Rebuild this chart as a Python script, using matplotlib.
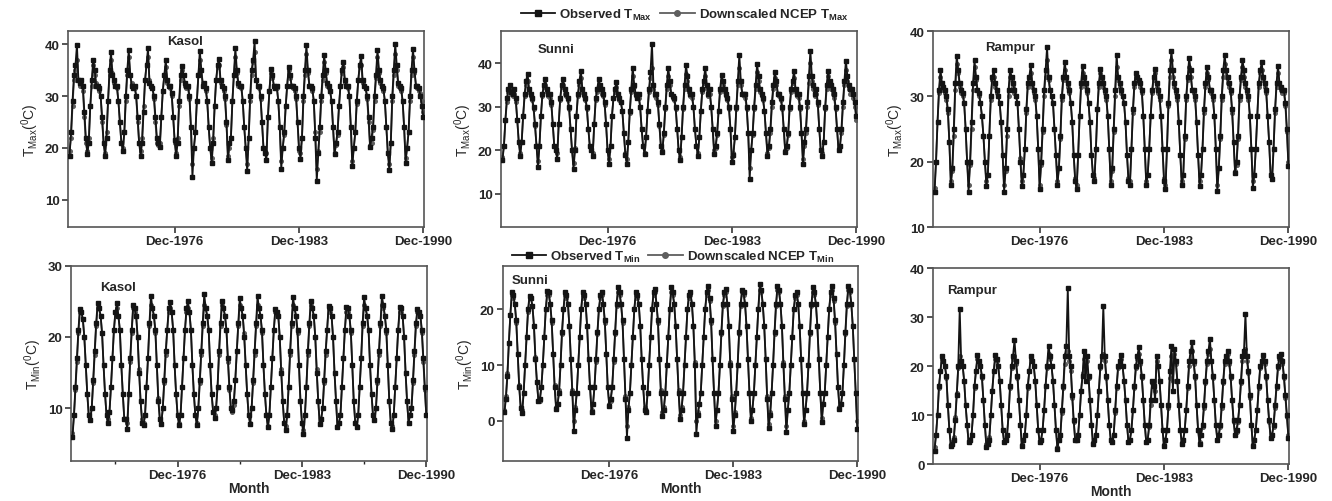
import matplotlib
matplotlib.use("Agg")
import matplotlib.pyplot as plt
from matplotlib.lines import Line2D

plt.rcParams['font.family'] = ['Liberation Sans', 'DejaVu Sans']
plt.rcParams['mathtext.fontset'] = 'custom'
plt.rcParams['mathtext.rm'] = 'Liberation Sans'
plt.rcParams['mathtext.bf'] = 'Liberation Sans:bold'
plt.rcParams['mathtext.it'] = 'Liberation Sans:italic'

# monthly series Jan-1971 .. Dec-1990 (one row per year)
kasol_tmax_obs = [
    18.5, 23, 29, 34, 36, 39.8, 33, 32.5, 33, 32, 27, 22,
    18.8, 21, 28, 33, 37, 35, 32, 32, 31.5, 30, 26, 21,
    18.5, 22, 29, 35, 38.4, 34, 33, 32, 32, 29, 25, 21,
    19.5, 23, 30, 35, 38.8, 34, 32, 31.5, 32, 30, 26, 21,
    18.5, 21, 27, 33, 36, 39.2, 32.5, 32, 31.5, 30, 26, 22,
    21, 20.1, 26, 31, 34, 36.9, 33, 32, 32, 30.5, 26, 21.5,
    18.5, 21, 29, 34, 35.8, 34, 32.5, 32, 32, 30, 24, 14.4,
    20, 23, 29, 34, 38.7, 35, 32, 32.5, 31.5, 29, 24, 20,
    17.2, 21, 28, 33, 36, 37.1, 33, 32, 31.5, 30, 25, 17.7,
    21, 22, 29, 34, 39.2, 35, 32.5, 32, 32, 29, 24, 20,
    15.5, 22, 30, 35, 37, 40.5, 33, 32, 32, 30, 25, 20,
    19, 17.7, 26, 31, 35.2, 34, 32, 31.5, 32, 29, 24, 16,
    20, 23, 28, 32, 35.5, 34, 32, 32, 31.5, 30, 25, 20,
    17.9, 22, 30, 35, 39.8, 35, 32, 32, 31.5, 29, 22, 13.7,
    19, 24, 30, 34, 37.9, 35, 32.5, 32, 31, 29, 24, 18.8,
    21, 23, 28, 32, 35, 36.6, 33, 32, 32, 30, 24, 16.6,
    20, 23, 29, 33, 36, 37.6, 33, 32, 31.5, 30, 26, 20.1,
    22, 24, 30, 34, 38.9, 35, 33, 32, 31.5, 29, 24, 19,
    15.7, 21, 30, 35, 40, 36, 32.5, 32, 31.5, 29, 24, 17.2,
    20, 23, 30, 35, 39, 35, 32, 32, 31.5, 30, 28, 26,
]
kasol_tmax_ds = [
    19.5, 22, 28, 33, 35, 37, 33, 32, 32.5, 31, 26, 21,
    19.5, 22, 28, 32, 36, 34, 32.5, 32, 31, 30, 25, 21,
    19, 23, 29, 34, 37, 34.5, 32.5, 32, 31.5, 29, 25, 21,
    20, 23, 29, 34, 37.5, 34, 32.5, 32, 31.5, 30, 25, 21,
    19.5, 22, 28, 33, 36, 37.5, 33, 32, 31.5, 29.5, 25, 21,
    20.5, 21, 26, 31, 34, 35.5, 32.5, 32, 31.5, 30, 26, 21,
    19, 22, 28, 33, 35, 34, 32, 31.5, 31.5, 29.5, 24, 17,
    20, 23, 29, 34, 37, 35, 32.5, 32, 31, 29, 24, 20,
    18, 22, 28, 33, 35.5, 36, 32.5, 32, 31, 29.5, 24.5, 18.5,
    20, 22, 29, 34, 37.5, 34.5, 32, 32, 31.5, 29, 24, 20,
    17, 22, 29, 34, 36.5, 38.5, 33, 32, 31.5, 29.5, 25, 20,
    19.5, 19, 26, 31, 34.5, 33.5, 32, 31.5, 31.5, 29, 24, 17.5,
    20, 22.5, 28, 32, 35, 33.5, 32, 31.5, 31, 29.5, 25, 19.5,
    19, 22, 29, 34, 38, 34.5, 32, 32, 31, 29, 23, 16,
    19.5, 23, 29, 33, 36.5, 34.5, 32, 31.5, 31, 29, 24, 19,
    20.5, 22.5, 28, 32, 34.5, 35.5, 32.5, 32, 31.5, 30, 24, 17.5,
    20, 23, 28.5, 33, 35.5, 36, 32.5, 32, 31.5, 29.5, 25, 20.5,
    21, 23.5, 29, 33.5, 37.5, 34.5, 32.5, 32, 31, 29, 24, 19,
    17, 21, 29, 34, 38, 35, 32, 31.5, 31, 29, 24, 18,
    20, 23, 29, 34, 37.5, 34.5, 32, 31.5, 31, 30.5, 29, 27,
]

sunni_tmax_obs = [
    17.7, 21, 27, 32, 34, 35, 33.5, 33, 34, 32, 27, 22,
    18.8, 22, 28, 33, 36, 37.6, 34, 33, 32, 30, 26, 21,
    16.1, 21, 28, 33, 35, 36.4, 34, 33, 33, 31, 26, 21,
    20, 18, 26, 32, 35, 36.4, 34, 33, 32, 30, 25, 20,
    15.7, 20, 28, 33, 36, 38.3, 34, 33, 32, 30, 25, 21,
    20, 18.8, 26, 32, 34, 36.4, 35, 34, 33, 31, 26, 20,
    16.9, 21, 28, 32, 34, 35.6, 33, 32, 31, 29, 24, 19,
    16.9, 22, 29, 34, 39, 35, 33, 32, 33, 30, 25, 21,
    19.2, 23, 29, 34, 38, 44.4, 35, 33, 33, 31, 26, 21,
    19.6, 24, 30, 35, 39, 36, 33, 32.5, 32, 30, 25, 20,
    17.7, 23, 30, 35, 39.5, 37, 34, 33, 33, 30, 25, 21,
    18.8, 23, 29, 34, 36, 39, 35, 33, 34, 30, 25, 19.2,
    21, 24, 29, 34, 37.2, 36, 34, 33, 32, 30, 25, 17.3,
    19, 23, 30, 36, 41.9, 36, 33, 33, 33, 30, 24, 13.4,
    20, 24, 30, 35, 39.8, 37, 34, 33, 32, 29, 24, 18.8,
    21, 25, 31, 35, 38, 36, 33, 33, 32, 30, 25, 19.6,
    21, 24, 30, 34, 36, 38.3, 34, 33, 33, 30, 24, 16.9,
    22, 25, 31, 37, 42.9, 37, 35, 33, 34, 31, 25, 20,
    18.8, 22, 30, 35, 38.3, 36, 35, 34, 33, 30, 25, 20,
    21, 25, 31, 36, 40.6, 37, 35, 34, 34, 33, 31, 28,
]
sunni_tmax_ds = [
    18.5, 21, 27, 31, 33.5, 34, 33, 32.5, 33, 31, 27, 22,
    19.5, 22, 28, 32.5, 35, 36, 33.5, 32.5, 31.5, 29.5, 25.5, 21,
    17.5, 21, 28, 32.5, 34.5, 35, 33.5, 32.5, 32, 30.5, 26, 21,
    20, 19.5, 26, 31.5, 34.5, 35, 33, 32.5, 31.5, 29.5, 25, 20,
    17, 20.5, 28, 32.5, 35, 36.5, 33.5, 32.5, 31.5, 29.5, 25, 21,
    20, 19.5, 26, 31.5, 33.5, 35, 34, 33, 32.5, 30.5, 26, 20,
    18, 21, 28, 32, 33.5, 34.5, 32.5, 31.5, 31, 29, 24, 19.5,
    18, 22, 28.5, 33.5, 37, 34.5, 32.5, 32, 32, 30, 25, 21,
    19.5, 23, 29, 33.5, 36.5, 39, 34, 32.5, 32, 30.5, 25.5, 21,
    20, 23.5, 29.5, 34, 37, 35, 33, 32, 31.5, 29.5, 25, 20,
    18.5, 23, 29.5, 34, 37.5, 36, 33.5, 32.5, 32, 30, 25, 21,
    19.5, 23, 29, 33.5, 35.5, 37, 34, 32.5, 33, 30, 25, 20,
    20.5, 23.5, 29, 33.5, 36, 35, 33.5, 32.5, 31.5, 29.5, 25, 18.5,
    19.5, 23, 29.5, 35, 39, 35, 33, 32.5, 32, 29.5, 24, 16,
    20, 23.5, 29.5, 34, 38, 36, 33.5, 32.5, 31.5, 29, 24, 19.5,
    20.5, 24, 30, 34, 36.5, 35, 33, 32.5, 31.5, 29.5, 25, 20,
    20.5, 23.5, 29.5, 33.5, 35.5, 36.5, 33.5, 32.5, 32, 29.5, 24, 18,
    21, 24, 30, 35.5, 40, 36, 34, 32.5, 33, 30.5, 25, 20,
    19.5, 22, 29.5, 34, 37, 35.5, 34, 33, 32, 29.5, 25, 20.5,
    21, 24, 30, 35, 38.5, 36, 34, 33, 33, 32, 30, 27,
]

rampur_tmax_obs = [
    15.3, 20, 26, 31, 34.1, 32, 31.5, 31, 30, 28, 23, 16.5,
    19, 25, 32, 36.2, 34, 32, 31, 30.5, 29, 25, 20, 15.4,
    20, 26, 32, 35.5, 33, 31, 30.5, 29, 27, 24, 20, 16.3,
    18, 24, 30, 33, 34, 32, 31, 30, 29, 26, 21, 15.4,
    19, 25, 31, 34.1, 33, 32, 31, 30, 29, 25, 20, 16.3,
    18, 22, 28, 32, 33, 34.8, 32, 31, 30, 27, 22, 15.8,
    20, 25, 31, 34, 37.5, 33, 31, 30, 29, 25, 21, 16.5,
    19, 24, 30, 33, 35.3, 33, 32, 31, 29, 26, 21, 17,
    15.8, 21, 27, 32, 34.7, 33, 32, 31, 29, 26, 21, 18,
    17.1, 22, 28, 32, 34.2, 33, 32, 31, 30, 27, 22, 16.5,
    19, 25, 31, 36.4, 33, 32, 31, 30, 29, 26, 21, 17,
    16.5, 22, 28, 32, 33.6, 33, 32.5, 32, 31, 27, 22, 16.5,
    18, 22, 27, 31, 33, 34.2, 32, 31, 30, 27, 22, 17,
    15.8, 22, 29, 34, 37, 34, 32, 31, 30, 26, 21, 16.5,
    18, 24, 30, 33, 35.9, 34, 31, 31, 30, 26, 21, 16.3,
    18, 22, 28, 32, 34.5, 33, 31, 31, 30, 27, 22, 15.5,
    19, 24, 30, 34, 36.3, 34, 33, 32, 31, 28, 23, 18.3,
    20, 24, 30, 33, 35.6, 34, 32, 31, 30, 27, 22, 16,
    18, 22, 27, 32, 34, 35.2, 33, 32, 31, 27, 23, 18,
    17.3, 22, 28, 32, 34.7, 32, 31.5, 31, 31, 29, 25, 19.4,
]
rampur_tmax_ds = [
    16, 20, 26, 30.5, 33, 31.5, 31, 30.5, 29.5, 27.5, 23, 17,
    18.5, 24, 31, 35, 33.5, 31.5, 30.5, 30, 29, 25, 20, 16.5,
    19.5, 25, 31, 34.5, 32.5, 31, 30, 29, 27, 24, 20, 17,
    18, 24, 29.5, 32.5, 33, 31.5, 30.5, 30, 29, 26, 21, 16.5,
    18.5, 24, 30, 33, 32.5, 31.5, 30.5, 30, 29, 25, 20.5, 17,
    18, 22, 27.5, 31.5, 32.5, 33.5, 31.5, 30.5, 29.5, 27, 22, 16.5,
    19.5, 24.5, 30, 33, 35.5, 32.5, 31, 30, 29, 25, 21, 17,
    19, 23.5, 29.5, 32.5, 34, 32.5, 31.5, 30.5, 29, 26, 21, 17.5,
    16.5, 21, 27, 31.5, 33.5, 32.5, 31.5, 30.5, 29, 26, 21, 18,
    17.5, 22, 28, 31.5, 33.5, 32.5, 31.5, 30.5, 29.5, 27, 22, 17,
    18.5, 24.5, 30, 34.5, 32.5, 31.5, 30.5, 30, 29, 26, 21, 17.5,
    17, 22, 27.5, 31.5, 33, 32.5, 32, 31.5, 30.5, 27, 22, 17,
    18, 22, 27, 30.5, 32.5, 33.5, 31.5, 30.5, 29.5, 27, 22, 17.5,
    16.5, 22, 28.5, 33, 35.5, 33, 31.5, 30.5, 29.5, 26, 21, 17,
    18, 23.5, 29.5, 32.5, 34.5, 33, 31, 30.5, 29.5, 26, 21, 17,
    18, 22, 27.5, 31.5, 33.5, 32.5, 31, 30.5, 29.5, 27, 22, 16.5,
    19, 23.5, 29.5, 33, 35, 33, 32, 31.5, 30.5, 27.5, 23, 18.5,
    19.5, 23.5, 29.5, 32.5, 34.5, 33, 31.5, 30.5, 29.5, 27, 22, 17,
    18, 22, 27, 31.5, 33.5, 34, 32.5, 31.5, 30.5, 27, 23, 18,
    17.5, 22, 27.5, 31.5, 33.5, 31.5, 31, 30.5, 30.5, 28.5, 24.5, 20,
]

kasol_tmin_obs = [
    5.9, 9, 13, 17, 21, 23.9, 23.5, 22.5, 20, 16, 12, 9,
    8.3, 10, 14, 18, 22, 24.7, 24, 23, 20.5, 16, 12, 9,
    8, 9.5, 13, 17, 21, 23.5, 24.7, 23, 21, 16, 12, 8.5,
    8.5, 7.1, 12, 17, 21, 24.5, 24, 23, 20, 15, 11, 8,
    7.6, 9, 13, 17, 22, 25.8, 24, 23, 21, 16, 11, 8.5,
    7.8, 10, 14, 18, 21, 24, 24.9, 23.5, 21, 16, 12, 9,
    7.6, 9, 13, 17, 21, 24, 25, 23.5, 21, 16, 12, 9,
    7.6, 10, 14, 18, 22, 26, 24, 23, 21, 16, 12, 9.5,
    8.7, 10, 13, 18, 22, 25.1, 24, 23, 21, 17, 13, 10,
    9.7, 11, 14, 18, 22, 25.4, 24, 23, 20, 16, 12, 9,
    7.8, 10, 14, 18, 22, 25.7, 24, 23, 21, 16, 12, 9,
    7.3, 9, 13, 17, 21, 23.9, 23.5, 23, 20, 15, 11, 8,
    6.9, 9, 13, 18, 22, 25.6, 24, 23, 21, 16, 11, 8,
    6.4, 9, 13, 18, 22, 25.1, 24, 23, 20, 15, 11, 7.8,
    8.5, 10, 14, 18, 21, 24.4, 24, 23, 20, 15, 11, 7.3,
    8, 9, 13, 17, 21, 24.2, 24, 23, 21, 16, 11, 8,
    7.3, 9, 13, 17, 22, 25.6, 24, 23, 21, 16, 12, 9,
    8.3, 10, 14, 18, 22, 25.7, 24.5, 23, 21, 16, 11, 8,
    7.1, 9, 13, 17, 21, 24.2, 24, 23, 20, 15, 11, 8,
    9, 10, 14, 18, 22, 23.9, 23.5, 23, 21, 17, 13, 9,
]
kasol_tmin_ds = [
    6.5, 9, 12.5, 16.5, 20.5, 23.5, 23.5, 22.5, 20, 16, 12, 9,
    8.5, 10, 13.5, 17.5, 21.5, 24, 24, 23, 20.5, 16, 12, 9,
    8.5, 9.5, 13, 17, 21, 23.5, 24, 23, 21, 16, 12, 8.5,
    8.5, 8, 12, 16.5, 20.5, 24, 23.5, 23, 20, 15.5, 11, 8.5,
    8, 9, 13, 17, 21.5, 24.5, 24, 23, 20.5, 16, 11.5, 8.5,
    8, 10, 13.5, 17.5, 21, 23.5, 24, 23.5, 21, 16, 12, 9,
    8, 9, 13, 17, 21, 23.5, 24, 23.5, 21, 16, 12, 9,
    8, 10, 13.5, 17.5, 21.5, 24.5, 24, 23, 21, 16, 12, 9.5,
    9, 10, 13, 17.5, 21.5, 24.5, 24, 23, 21, 16.5, 12.5, 10,
    9.5, 10.5, 14, 18, 21.5, 24.5, 24, 23, 20.5, 16, 12, 9,
    8, 10, 13.5, 17.5, 21.5, 24.5, 24, 23, 20.5, 16, 12, 9,
    7.5, 9, 13, 17, 21, 23.5, 23.5, 23, 20, 15.5, 11, 8,
    7.5, 9, 13, 17.5, 21.5, 24.5, 24, 23, 20.5, 16, 11, 8,
    7, 9, 13, 17.5, 21.5, 24.5, 24, 23, 20, 15.5, 11, 8,
    8.5, 10, 13.5, 17.5, 21, 24, 23.5, 23, 20, 15, 11, 7.5,
    8, 9, 13, 17, 21, 23.5, 23.5, 23, 20.5, 16, 11, 8,
    7.5, 9, 13, 17, 21.5, 24.5, 24, 23, 21, 16, 12, 9,
    8.5, 10, 13.5, 17.5, 21.5, 24.5, 24, 23, 20.5, 16, 11, 8,
    7.5, 9, 13, 17, 21, 23.5, 23.5, 23, 20, 15, 11, 8,
    9, 10, 13.5, 17.5, 21.5, 23.5, 23.5, 23, 20.5, 16.5, 12.5, 9,
]

sunni_tmin_obs = [
    1.5, 4, 8, 14, 19, 23, 22.5, 21, 18, 12, 6, 2.3,
    1.4, 5, 10, 15, 20, 22.4, 22, 20.5, 17, 11, 7, 3.6,
    4, 6, 10, 15, 20, 23.3, 23, 21, 18, 12, 6, 2.2,
    3, 5, 10, 16, 20, 23, 22.5, 21, 17, 11, 5, -1.8,
    2, 5, 10, 15, 20, 23.1, 22.5, 21, 17, 11, 6, 1.5,
    3, 6, 11, 16, 20, 22.5, 23.1, 21, 18, 12, 6, 2.7,
    4, 6, 11, 16, 21, 24, 23, 21, 18, 11, 4, -3,
    2, 5, 10, 15, 20, 23.1, 22.5, 21, 17, 11, 6, 2,
    1.5, 5, 10, 15, 20, 23, 23.6, 21, 18, 11, 5, 0.9,
    2, 5, 10, 15, 20, 23.9, 23, 21, 17, 11, 5, 0.3,
    2, 5, 10, 15, 20, 22.5, 23.1, 21, 17, 10, -2.4, 1,
    3, 5, 10, 15, 20, 23, 24.2, 22, 18, 11, 5, -0.9,
    2, 5, 10, 16, 21, 23, 23.7, 21, 17, 10, 4, -1.8,
    1, 5, 10, 16, 21, 23.5, 23, 21, 17, 11, 5, 0,
    2, 5, 10, 15, 20, 24.5, 23.5, 21, 17, 11, 4, -1.2,
    1, 5, 10, 16, 21, 24.2, 23.5, 21, 17, 10, 4, -2,
    2, 5, 10, 15, 20, 22.5, 23.1, 21, 17, 11, 5, -0.6,
    2, 5, 10, 16, 21, 23.9, 23, 21, 17, 11, 5, -0.2,
    3, 5, 10, 15, 20, 23, 24.2, 22, 18, 12, 6, 2.1,
    3, 5, 10, 16, 21, 24.2, 23.5, 21, 17, 11, 5, -1.5,
]
sunni_tmin_ds = [
    2, 4.5, 8.5, 14, 19, 22.5, 22, 21, 17.5, 12, 6.5, 2.5,
    2, 5, 10, 15, 19.5, 22, 22, 20.5, 17, 11.5, 7, 3.5,
    3.5, 6, 10, 15, 20, 22.5, 22.5, 21, 17.5, 12, 6.5, 2.5,
    3, 5.5, 10, 15.5, 20, 22.5, 22, 21, 17, 11, 5.5, 0,
    2.5, 5, 10, 15, 20, 22.5, 22, 21, 17, 11, 6, 2,
    3, 6, 10.5, 15.5, 20, 22, 22.5, 21, 17.5, 12, 6, 3,
    3.5, 6, 10.5, 15.5, 20.5, 23, 22.5, 21, 17.5, 11, 4.5, -1,
    2.5, 5, 10, 15, 20, 22.5, 22, 21, 17, 11, 6, 2.5,
    2, 5, 10, 15, 20, 22.5, 23, 21, 17.5, 11, 5.5, 1.5,
    2.5, 5, 10, 15, 20, 23, 22.5, 21, 17, 11, 5.5, 1,
    2.5, 5, 10, 15, 20, 22, 22.5, 21, 17, 10.5, 0, 1.5,
    3, 5, 10, 15, 20, 22.5, 23.5, 21.5, 17.5, 11, 5, 0,
    2, 5, 10, 15.5, 20.5, 22.5, 23, 21, 17, 10.5, 4.5, -1,
    1.5, 5, 10, 15.5, 20.5, 23, 22.5, 21, 17, 11, 5, 0.5,
    2, 5, 10, 15, 20, 23.5, 23, 21, 17, 11, 4.5, -0.5,
    1.5, 5, 10, 15.5, 20.5, 23.5, 23, 21, 17, 10.5, 4.5, -1,
    2, 5, 10, 15, 20, 22, 22.5, 21, 17, 11, 5, 0,
    2, 5, 10, 15.5, 20.5, 23, 22.5, 21, 17, 11, 5, 0.5,
    3, 5, 10, 15, 20, 22.5, 23.5, 21.5, 17.5, 12, 6, 2.5,
    3, 5, 10, 15.5, 20.5, 23.5, 23, 21, 17, 11, 5, 0,
]

rampur_tmin_obs = [
    2.7, 6, 10, 16, 19, 22, 21, 20, 18, 12, 7, 3.7,
    4, 5, 9, 14, 20, 31.6, 21, 20, 17, 12, 8, 4.4,
    5, 6, 10, 16, 19, 22.2, 21, 20, 18, 13, 8, 3.5,
    4, 5, 10, 15, 19, 22.2, 21.5, 20, 17, 12, 7, 4.4,
    5, 6, 10, 16, 20, 22, 25.3, 21, 18, 13, 8, 3.6,
    5, 6, 10, 16, 19, 22, 21, 20, 17, 12, 7, 4.4,
    5, 7, 11, 16, 20, 24.1, 22, 20, 17, 12, 7, 3,
    5, 6, 11, 16, 22, 24, 35.9, 22, 20, 14, 9, 4.8,
    5, 6, 10, 15, 18, 23.1, 17, 22, 18, 13, 8, 4.1,
    5, 6, 10, 15, 20, 22, 32.2, 22, 18, 13, 8, 5,
    4.4, 6, 11, 16, 20, 21, 22.2, 20, 17, 13, 8, 4.4,
    5, 7, 11, 16, 20, 22, 23.8, 21, 18, 13, 8, 4.4,
    5, 8, 13, 17, 16, 13, 22.1, 20, 17, 12, 7, 3.7,
    5, 7, 12, 19, 24.1, 15, 23.5, 21, 17, 12, 7, 4.1,
    5, 7, 11, 16, 21, 23, 24.8, 21, 18, 12, 7, 4.1,
    6, 8, 12, 17, 21, 23, 25.6, 21, 18, 13, 8, 4.8,
    6, 8, 12, 17, 21, 22, 23.1, 21, 18, 13, 9, 5.9,
    7, 9, 12, 17, 22, 23, 30.6, 22, 19, 14, 8, 3.7,
    5, 7, 11, 16, 20, 21, 22.2, 21, 18, 13, 9, 5.4,
    6, 8, 12, 16, 20, 22, 22.4, 21, 18, 14, 10, 5.4,
]
rampur_tmin_ds = [
    3.5, 6, 10, 15.5, 19, 21.5, 21, 20, 17.5, 12, 7, 4,
    4.5, 5.5, 9.5, 14.5, 19.5, 22, 21, 20, 17, 12, 8, 4.5,
    5, 6, 10, 15.5, 19, 21.5, 21, 20, 17.5, 13, 8, 4,
    4.5, 5.5, 10, 15, 19, 21.5, 21, 20, 17, 12, 7, 4.5,
    5, 6, 10, 15.5, 19.5, 21.5, 22, 20.5, 17.5, 13, 8, 4,
    5, 6, 10, 15.5, 19, 21.5, 21, 20, 17, 12, 7, 4.5,
    5, 7, 11, 16, 19.5, 22.5, 21.5, 20, 17, 12, 7, 3.5,
    5, 6, 10.5, 15.5, 20.5, 22.5, 23, 21, 19, 13.5, 8.5, 5,
    5, 6, 10, 15, 18.5, 21.5, 19, 21, 17.5, 13, 8, 4.5,
    5, 6, 10, 15, 19.5, 21.5, 22.5, 21, 17.5, 13, 8, 5,
    4.5, 6, 10.5, 15.5, 19.5, 21, 21.5, 20, 17, 13, 8, 4.5,
    5, 7, 11, 15.5, 19.5, 21.5, 22.5, 20.5, 17.5, 13, 8, 4.5,
    5, 7.5, 12, 16.5, 17, 15, 21, 20, 17, 12, 7, 4,
    5, 7, 11.5, 17.5, 22, 17, 22.5, 20.5, 17, 12, 7, 4.5,
    5, 7, 11, 15.5, 20, 22, 23, 20.5, 17.5, 12, 7, 4.5,
    6, 7.5, 11.5, 16.5, 20.5, 22.5, 23.5, 21, 17.5, 13, 8, 5,
    6, 7.5, 11.5, 16.5, 20.5, 21.5, 22.5, 20.5, 17.5, 13, 8.5, 6,
    6.5, 8.5, 12, 16.5, 21, 22.5, 23.5, 21, 18.5, 13.5, 8, 4,
    5, 7, 11, 15.5, 19.5, 21, 21.5, 20.5, 17.5, 13, 8.5, 5.5,
    6, 7.5, 11.5, 15.5, 19.5, 21.5, 21.5, 20.5, 17.5, 13.5, 9.5, 6,
]

months = list(range(len(kasol_tmax_obs)))
tick_pos = [71, 155, 239]
tick_labels = ['Dec-1976', 'Dec-1983', 'Dec-1990']

TXT = '#262626'
OBS = '#141414'
DS = '#5e5e5e'

fig = plt.figure(figsize=(13.32, 5.02), dpi=100)

panels = [
    # rect, obs, ds, station, station pos, ylim, yticks, ylabel
    ([0.0511, 0.5458, 0.2673, 0.3904], kasol_tmax_obs, kasol_tmax_ds, 'Kasol', (0.33, 0.95),
     (4.8, 42.5), [10, 20, 30, 40], 'Max'),
    ([0.3761, 0.5458, 0.2673, 0.3904], sunni_tmax_obs, sunni_tmax_ds, 'Sunni', (0.155, 0.91),
     (2.4, 47.4), [10, 20, 30, 40], 'Max'),
    ([0.7005, 0.5458, 0.2673, 0.3904], rampur_tmax_obs, rampur_tmax_ds, 'Rampur', (0.216, 0.92),
     (10, 40), [10, 20, 30, 40], 'Max'),
    ([0.0533, 0.0797, 0.2673, 0.3890], kasol_tmin_obs, kasol_tmin_ds, 'Kasol', (0.132, 0.89),
     (2.6, 30), [10, 20, 30], 'Min'),
    ([0.3776, 0.0797, 0.2665, 0.3890], sunni_tmin_obs, sunni_tmin_ds, 'Sunni', (0.076, 0.927),
     (-7.2, 27.8), [0, 10, 20], 'Min'),
    ([0.7005, 0.0737, 0.2673, 0.3904], rampur_tmin_obs, rampur_tmin_ds, 'Rampur', (0.11, 0.89),
     (0, 40), [0, 10, 20, 30, 40], 'Min'),
]

for i, (rect, obs, ds, station, spos, ylim, yticks, kind) in enumerate(panels):
    ax = fig.add_axes(rect)
    ax.plot(months, ds, color=DS, lw=1.3, marker='o', ms=2.6, mfc=DS, mec=DS, zorder=2)
    ax.plot(months, obs, color=OBS, lw=1.3, marker='s', ms=2.2, mfc=OBS, mec=OBS, zorder=3)
    ax.set_xlim(-1, 239.5)
    ax.set_ylim(*ylim)
    ax.set_yticks(yticks)
    ax.set_xticks(tick_pos)
    ax.set_xticklabels(tick_labels)
    if i == 3:
        ax.set_xticks([29, 113, 197], minor=True)
    ax.tick_params(axis='both', which='major', direction='out', length=4, width=1.1,
                   labelsize=9.5, colors=TXT, pad=2)
    ax.tick_params(axis='x', which='minor', direction='out', length=2.5, width=1.0, colors=TXT)
    for lab in ax.get_xticklabels() + ax.get_yticklabels():
        lab.set_fontweight('bold')
    for sp in ax.spines.values():
        sp.set_color('#555555')
        sp.set_linewidth(1.2)
    ax.text(spos[0], spos[1], station, transform=ax.transAxes, ha='center', va='center',
            fontsize=9.5, fontweight='bold', color=TXT)
    if i != 5:
        ax.set_ylabel(r'T$_{\mathrm{' + kind + r'}}$($^{0}$C)', fontsize=10, color=TXT, labelpad=3)
    if i >= 3:
        ax.set_xlabel('Month', fontsize=10, fontweight='bold', color=TXT, labelpad=0)

for kind, ypos, xc in [('Max', 0.970, 0.514), ('Min', 0.487, 0.505)]:
    handles = [
        Line2D([], [], color=OBS, lw=1.3, marker='s', ms=4, mfc=OBS, mec=OBS),
        Line2D([], [], color=DS, lw=1.3, marker='o', ms=4, mfc=DS, mec=DS),
    ]
    labels = [r'Observed T$_{\mathbf{' + kind + r'}}$',
              r'Downscaled NCEP T$_{\mathbf{' + kind + r'}}$']
    fig.legend(handles, labels, loc='center', bbox_to_anchor=(xc, ypos), ncol=2, frameon=False,
               prop={'weight': 'bold', 'size': 9.5}, handlelength=2.6, handletextpad=0.3,
               columnspacing=0.6, borderaxespad=0, labelcolor=TXT)

fig.savefig('out.png', dpi=100)
